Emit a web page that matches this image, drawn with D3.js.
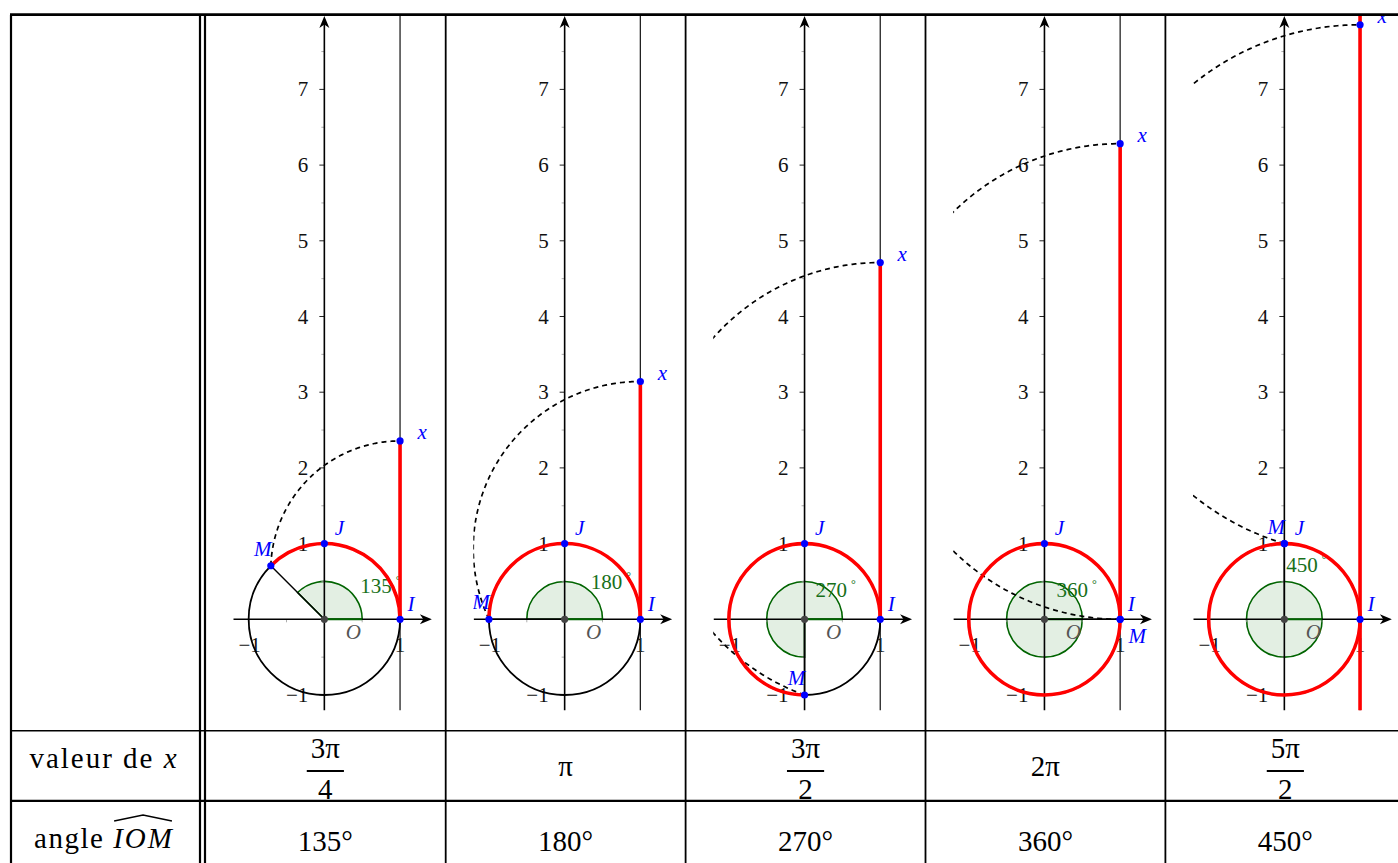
<!DOCTYPE html>
<html><head><meta charset="utf-8">
<script src="https://cdn.jsdelivr.net/npm/d3@7"></script>
<style>body{margin:0;background:#fff}svg{display:block}text{white-space:pre}</style>
</head><body><svg id="c" width="1398" height="863"></svg>
<script>
// ---------- data ----------
const angleDegrees = [135, 180, 270, 360, 450];
const xNumerators = ["3π", "π", "3π", "2π", "5π"];
const xDenominators = ["4", "", "2", "", "2"];
const yTickLabels = [-1, 1, 2, 3, 4, 5, 6, 7];
const yMinorTicks = [-0.5, 0.5, 1.5, 2.5, 3.5, 4.5, 5.5, 6.5, 7.5];
const xTickLabels = [-1, 1];
const xMinorTicks = [-0.5, 0.5];
const mLabelSides = ["nw", "nw", "nw", "se", "nw"];
const redFullLine = [false, false, false, false, true];
const rowTitles = ["valeur de ", "angle "];

// ---------- layout ----------
const W = 1398, H = 863;
const tableTop = 14.7, tableLeft = 11, dblA = 200, dblB = 205;
const firstLine = 445.7, colStep = 239.9;
const row1 = 730.7, row2 = 800.8;
const unit = 75.7, oy = 619.3;
const axisMin = -1.2, xAxisMax = 1.42, yAxisMax = 7.97;
const SERIF = "'Liberation Serif', 'DejaVu Serif', serif";
const panelFont = 21, tableFont = 29;
const blue = "#0000ff", red = "#ff0000", dgreen = "#006400", lgreen = "#e3efe3", gtext = "#17701a";
const degLabelOffsets = [[36, -26], [26, -30], [11, -22.5], [12, -22.5], [2, -47.5]];

const svg = d3.select("#c");
const defs = svg.append("defs");

function edge(i) { return i === 0 ? dblB : firstLine + (i - 1) * colStep; }

const TAU = Math.PI * 2;

angleDegrees.forEach((deg, i) => {
  const left = edge(i), right = edge(i + 1);
  const ox = (left + right) / 2 - 1;
  const xs = d3.scaleLinear().domain([0, 1]).range([ox, ox + unit]);
  const ys = d3.scaleLinear().domain([0, 1]).range([oy, oy - unit]);
  const theta = deg * Math.PI / 180;
  const xv = theta; // length of arc
  const R = xs(1) - xs(0);

  defs.append("clipPath").attr("id", "clip" + i).append("rect")
    .attr("x", xs(axisMin) - 0.5).attr("y", tableTop)
    .attr("width", right - xs(axisMin) + 0.5).attr("height", ys(axisMin) - tableTop + 1);
  const g = svg.append("g").attr("clip-path", `url(#clip${i})`);

  // green sector
  const sector = d3.arc().innerRadius(0).outerRadius(R * 0.5)
    .startAngle(Math.PI / 2 - Math.min(theta, TAU)).endAngle(Math.PI / 2);
  g.append("path").attr("d", sector()).attr("transform", `translate(${ox},${oy})`)
    .attr("fill", lgreen).attr("stroke", dgreen).attr("stroke-width", 1.6);

  // minor ticks
  yMinorTicks.forEach(t => g.append("line").attr("x1", ox - 3).attr("x2", ox)
    .attr("y1", ys(t)).attr("y2", ys(t)).attr("stroke", "#999").attr("stroke-width", 0.8));
  xMinorTicks.forEach(t => g.append("line").attr("x1", xs(t)).attr("x2", xs(t))
    .attr("y1", oy).attr("y2", oy + 3).attr("stroke", "#999").attr("stroke-width", 0.8));
  // major ticks + labels
  yTickLabels.forEach(t => {
    g.append("line").attr("x1", ox - 5).attr("x2", ox).attr("y1", ys(t)).attr("y2", ys(t))
      .attr("stroke", "#222").attr("stroke-width", 1);
    g.append("text").attr("x", ox - 16).attr("y", ys(t) + 7).attr("text-anchor", "end")
      .attr("font-family", SERIF).attr("font-size", panelFont).attr("fill", "#111")
      .text(t < 0 ? "−" + (-t) : t);
  });
  xTickLabels.forEach(t => {
    g.append("line").attr("x1", xs(t)).attr("x2", xs(t)).attr("y1", oy).attr("y2", oy + 5)
      .attr("stroke", "#222").attr("stroke-width", 1);
    g.append("text").attr("x", xs(t) + (t < 0 ? 1 : 0)).attr("y", oy + 33).attr("text-anchor", "middle")
      .attr("font-family", SERIF).attr("font-size", panelFont).attr("fill", "#111")
      .text(t < 0 ? "−" + (-t) : t);
  });

  // axes
  g.append("line").attr("x1", xs(axisMin)).attr("x2", xs(xAxisMax) - 6).attr("y1", oy).attr("y2", oy)
    .attr("stroke", "#000").attr("stroke-width", 1.6);
  g.append("line").attr("x1", ox).attr("x2", ox).attr("y1", ys(axisMin)).attr("y2", ys(yAxisMax) + 6)
    .attr("stroke", "#000").attr("stroke-width", 1.6);
  const ax = xs(xAxisMax);
  g.append("path").attr("d", `M${ax},${oy} L${ax - 12},${oy - 5} L${ax - 8.5},${oy} L${ax - 12},${oy + 5} Z`).attr("fill", "#000");
  const ay = ys(yAxisMax);
  g.append("path").attr("d", `M${ox},${ay} L${ox - 5},${ay + 12} L${ox},${ay + 8.5} L${ox + 5},${ay + 12} Z`).attr("fill", "#000");

  // vertical line x = 1
  g.append("line").attr("x1", xs(1)).attr("x2", xs(1)).attr("y1", ys(axisMin)).attr("y2", tableTop)
    .attr("stroke", "#222").attr("stroke-width", 1.3);

  // green radius along x-axis
  g.append("line").attr("x1", ox).attr("x2", xs(0.5)).attr("y1", oy).attr("y2", oy)
    .attr("stroke", dgreen).attr("stroke-width", 2);

  // unit circle
  g.append("circle").attr("cx", ox).attr("cy", oy).attr("r", R)
    .attr("fill", "none").attr("stroke", "#000").attr("stroke-width", 1.8);

  const Mx = Math.cos(theta), My = Math.sin(theta);
  // OM
  g.append("line").attr("x1", ox).attr("y1", oy).attr("x2", xs(Mx)).attr("y2", ys(My))
    .attr("stroke", "#000").attr("stroke-width", 1.4);

  // degree label
  const dl = degLabelOffsets[i];
  const dt = g.append("text").attr("x", ox + dl[0]).attr("y", oy + dl[1])
    .attr("font-family", SERIF).attr("font-size", panelFont).attr("fill", gtext);
  dt.append("tspan").text(deg);
  dt.append("tspan").attr("dx", 4).attr("dy", -9).attr("font-size", 12).text("°");

  // dashed "winding" arc: circle centred on x = 1 through M, tangent at (1, x)
  const c = (xv * xv - (Mx - 1) * (Mx - 1) - My * My) / (2 * (xv - My));
  const r = xv - c;
  let phiM = Math.atan2(My - c, Mx - 1);
  while (phiM <= Math.PI / 2) phiM += TAU;
  const n = 200;
  const pts = d3.range(n + 1).map(k => {
    const phi = phiM + (Math.PI / 2 - phiM) * k / n;
    return [1 + r * Math.cos(phi), c + r * Math.sin(phi)];
  });
  g.append("path").attr("d", d3.line().x(p => xs(p[0])).y(p => ys(p[1]))(pts))
    .attr("fill", "none").attr("stroke", "#000").attr("stroke-width", 1.7).attr("stroke-dasharray", "5,4");

  // red arc
  const p = d3.path();
  p.moveTo(xs(1), ys(0));
  p.arc(ox, oy, R, 0, -theta, true);
  g.append("path").attr("d", p.toString()).attr("fill", "none").attr("stroke", red).attr("stroke-width", 3.6);
  // red segment on tangent line
  const y0 = redFullLine[i] ? ys(axisMin) : ys(0);
  const y1 = redFullLine[i] ? tableTop : ys(xv);
  g.append("line").attr("x1", xs(1)).attr("x2", xs(1)).attr("y1", y0).attr("y2", y1)
    .attr("stroke", red).attr("stroke-width", 3.6);

  // O point and label
  g.append("circle").attr("cx", ox).attr("cy", oy).attr("r", 3.6).attr("fill", "#444");
  g.append("text").attr("x", ox + 29).attr("y", oy + 20).attr("text-anchor", "middle")
    .attr("font-family", SERIF).attr("font-style", "italic").attr("font-size", panelFont)
    .attr("fill", "#555").text("O");

  // blue points
  const bluePts = [
    { p: [1, 0], name: "I", dx: 11, dy: -8 },
    { p: [0, 1], name: "J", dx: 15, dy: -9 },
    { p: [Mx, My], name: "M", dx: mLabelSides[i] === "se" ? 17 : -8, dy: mLabelSides[i] === "se" ? 24 : -10 },
    { p: [1, xv], name: "x", dx: 22, dy: -1.5 }
  ];
  bluePts.forEach(b => {
    g.append("circle").attr("cx", xs(b.p[0])).attr("cy", ys(b.p[1])).attr("r", 3.6).attr("fill", blue);
  });
  bluePts.forEach(b => {
    g.append("text").attr("x", xs(b.p[0]) + b.dx).attr("y", ys(b.p[1]) + b.dy).attr("text-anchor", "middle")
      .attr("font-family", SERIF).attr("font-style", "italic").attr("font-size", panelFont)
      .attr("fill", blue).text(b.name);
  });

  // table cells: x value
  const cx = (left + right) / 2;
  if (xDenominators[i]) {
    const num = svg.append("text").attr("x", cx).attr("y", 758).attr("text-anchor", "middle")
      .attr("font-family", SERIF).attr("font-size", tableFont).text(xNumerators[i]);
    const w = num.node().getComputedTextLength();
    svg.append("line").attr("x1", cx - w / 2 - 4).attr("x2", cx + w / 2 + 4).attr("y1", 771).attr("y2", 771)
      .attr("stroke", "#000").attr("stroke-width", 1.8);
    svg.append("text").attr("x", cx).attr("y", 799).attr("text-anchor", "middle")
      .attr("font-family", SERIF).attr("font-size", tableFont).text(xDenominators[i]);
  } else {
    svg.append("text").attr("x", cx).attr("y", 776).attr("text-anchor", "middle")
      .attr("font-family", SERIF).attr("font-size", tableFont).text(xNumerators[i]);
  }
  svg.append("text").attr("x", cx).attr("y", 851).attr("text-anchor", "middle")
    .attr("font-family", SERIF).attr("font-size", tableFont).text(deg + "°");
});

// row titles
const t1 = svg.append("text").attr("x", 104).attr("y", 768).attr("text-anchor", "middle")
  .attr("font-family", SERIF).attr("font-size", tableFont).attr("letter-spacing", 2);
t1.append("tspan").text(rowTitles[0]);
t1.append("tspan").attr("font-style", "italic").text("x");

const a1 = svg.append("text").attr("y", 848).attr("font-family", SERIF).attr("font-size", tableFont)
  .attr("letter-spacing", 1.5).text(rowTitles[1]);
const a2 = svg.append("text").attr("y", 848).attr("font-family", SERIF).attr("font-size", tableFont)
  .attr("font-style", "italic").attr("letter-spacing", 2).text("IOM");
const w1 = a1.node().getComputedTextLength(), w2 = a2.node().getComputedTextLength();
const sx = 104 - (w1 + w2) / 2;
a1.attr("x", sx); a2.attr("x", sx + w1);
const h0 = sx + w1 + 1, h1 = sx + w1 + w2 - 2;
svg.append("path").attr("d", `M${h0},821 L${(h0 + h1) / 2},815 L${h1},821`)
  .attr("fill", "none").attr("stroke", "#000").attr("stroke-width", 1.5);

// table lines
const lines = svg.append("g").attr("stroke", "#000");
lines.append("line").attr("x1", tableLeft - 1).attr("x2", W).attr("y1", tableTop).attr("y2", tableTop).attr("stroke-width", 2.8);
lines.append("line").attr("x1", tableLeft).attr("x2", W).attr("y1", row1).attr("y2", row1).attr("stroke-width", 1.6);
lines.append("line").attr("x1", tableLeft).attr("x2", W).attr("y1", row2).attr("y2", row2).attr("stroke-width", 2.2);
[tableLeft, dblA, dblB].forEach(x => lines.append("line").attr("x1", x).attr("x2", x)
  .attr("y1", tableTop).attr("y2", H).attr("stroke-width", 2.2));
d3.range(1, 5).forEach(k => lines.append("line").attr("x1", edge(k)).attr("x2", edge(k))
  .attr("y1", tableTop).attr("y2", H).attr("stroke-width", 1.8));
</script></body></html>
